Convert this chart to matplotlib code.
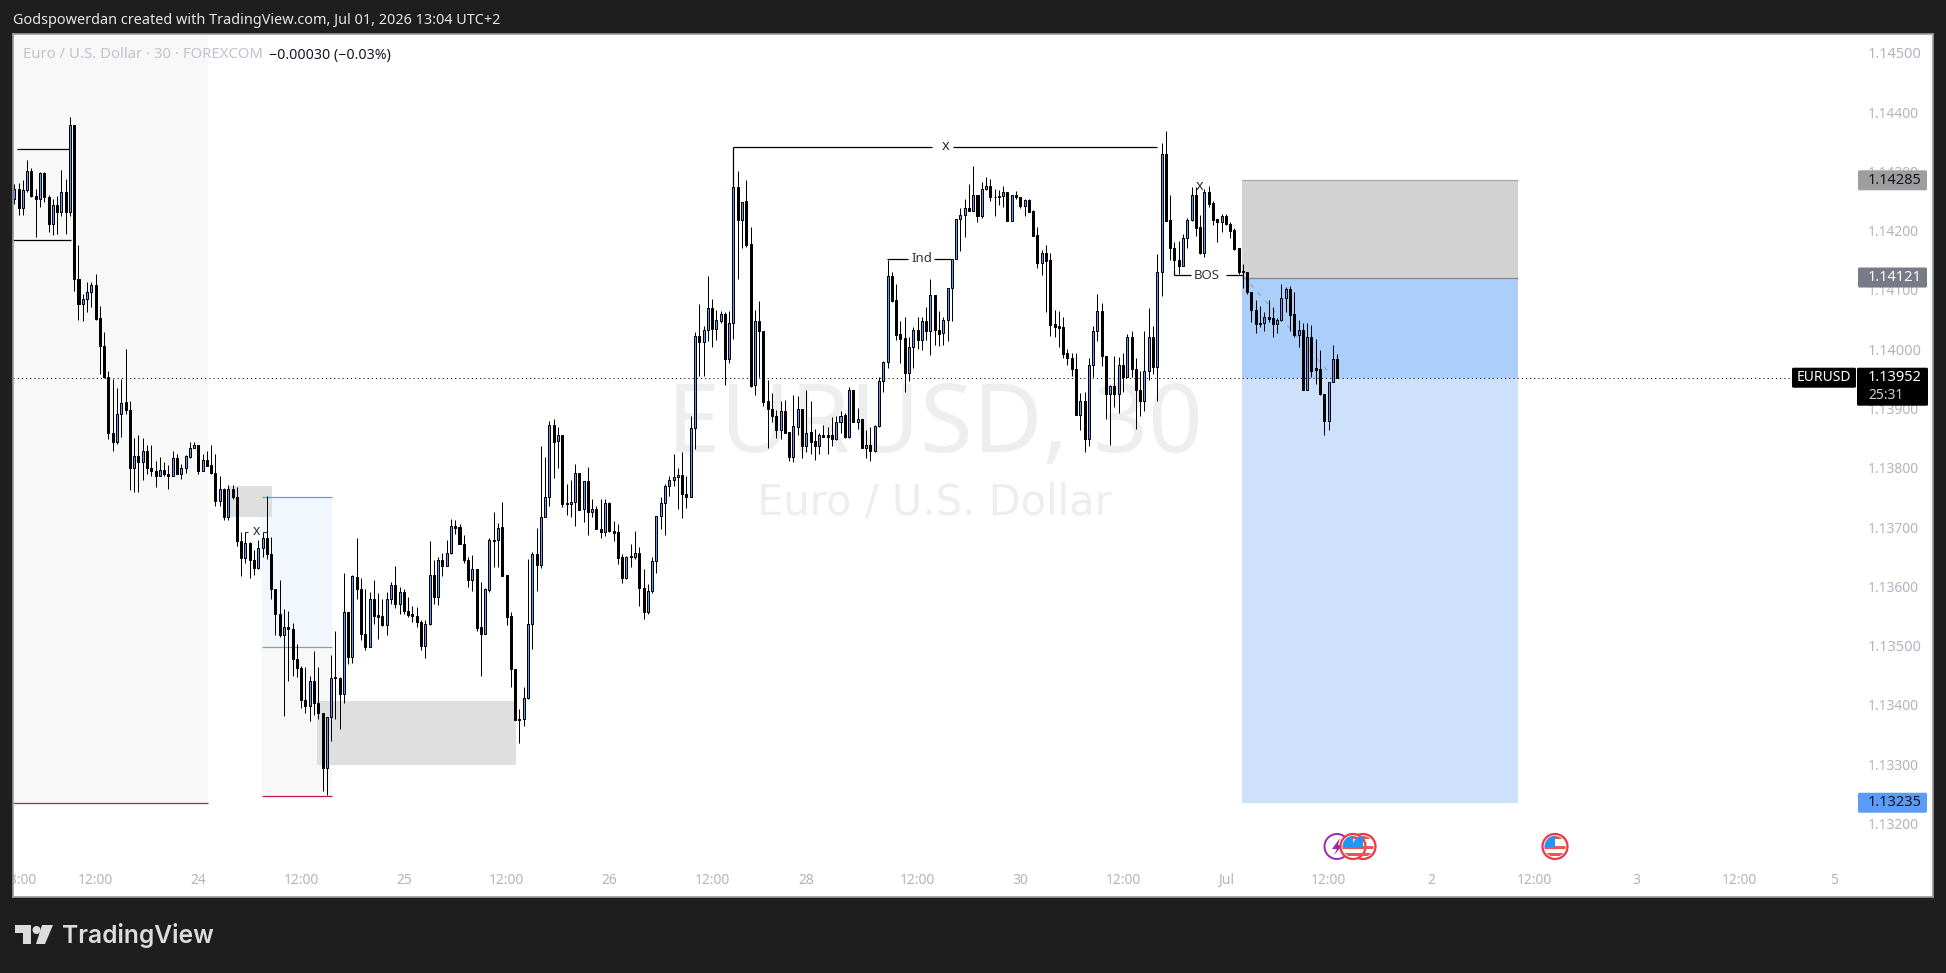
import numpy as np
import matplotlib
matplotlib.use("Agg")
import matplotlib.pyplot as plt
from matplotlib.patches import Rectangle, Circle, Polygon, FancyBboxPatch

plt.rcParams["font.family"] = ["Noto Sans", "DejaVu Sans"]

# candle values, in points above 1.13000 (30 minute bars)
opens = [
    1254, 1270, 1238, 1268, 1300, 1259, 1254, 1297, 1257, 1211,
    1243, 1231, 1266, 1231, 1378, 1118, 1077, 1085, 1097, 1109,
    1052, 1006, 954, 858, 843, 891, 911, 898, 799, 820,
    810, 829, 800, 795, 787, 797, 790, 787, 816, 790,
    799, 819, 834, 838, 795, 814, 805, 792, 744, 765,
    717, 765, 750, 677, 648, 674, 645, 631, 664, 681,
    654, 596, 554, 518, 532, 528, 477, 462, 409, 399,
    441, 404, 386, 293, 379, 447, 446, 419, 556, 481,
    616, 596, 519, 498, 578, 552, 550, 534, 578, 602,
    570, 591, 559, 553, 550, 540, 500, 536, 620, 582,
    645, 635, 657, 701, 700, 672, 645, 611, 629, 531,
    519, 594, 679, 678, 700, 619, 550, 461, 377, 377,
    411, 537, 655, 636, 717, 750, 873, 845, 855, 741,
    739, 743, 792, 730, 777, 726, 730, 697, 692, 740,
    694, 691, 649, 614, 652, 650, 657, 598, 557, 593,
    642, 718, 740, 770, 779, 784, 788, 755, 751, 868,
    1022, 1013, 1033, 1069, 1034, 1048, 1060, 984, 1045, 1273,
    1218, 1250, 1177, 940, 1047, 1031, 913, 900, 888, 864,
    895, 860, 819, 869, 900, 837, 860, 845, 836, 855,
    855, 855, 849, 877, 889, 852, 931, 878, 882, 833,
    838, 829, 870, 946, 978, 1123, 1083, 1026, 1019, 960,
    1003, 1033, 1015, 1047, 1030, 1091, 1033, 1027, 1050, 1103,
    1153, 1219, 1226, 1238, 1234, 1260, 1225, 1270, 1276, 1257,
    1256, 1259, 1265, 1217, 1261, 1256, 1242, 1252, 1233, 1192,
    1146, 1163, 1150, 1042, 1039, 1037, 993, 986, 966, 889,
    912, 848, 973, 1030, 1064, 988, 924, 938, 924, 973,
    954, 1020, 966, 932, 913, 963, 1020, 970, 1131, 1330,
    1218, 1170, 1150, 1141, 1187, 1218, 1260, 1206, 1162, 1266,
    1246, 1220, 1215, 1225, 1212, 1201, 1170, 1132, 1130, 1096,
    1067, 1045, 1044, 1055, 1052, 1042, 1049, 1087, 1101, 1059,
    1024, 1032, 932, 1021, 968, 966, 925, 879, 945, 983,
]
closes = [
    1270, 1238, 1268, 1300, 1258, 1254, 1297, 1257, 1211, 1243,
    1231, 1266, 1231, 1378, 1118, 1077, 1084, 1097, 1109, 1051,
    1006, 954, 858, 843, 891, 910, 898, 799, 820, 810,
    829, 800, 795, 787, 797, 789, 786, 816, 790, 799,
    820, 834, 838, 795, 814, 803, 792, 744, 765, 717,
    765, 750, 677, 648, 674, 645, 631, 664, 681, 654,
    595, 554, 518, 532, 528, 477, 462, 409, 399, 441,
    404, 386, 293, 379, 445, 445, 419, 556, 481, 617,
    596, 519, 498, 578, 550, 549, 534, 578, 602, 571,
    591, 559, 551, 550, 540, 500, 536, 620, 582, 645,
    635, 657, 702, 699, 672, 645, 611, 629, 529, 519,
    595, 679, 677, 699, 618, 549, 460, 374, 374, 411,
    537, 655, 636, 717, 750, 873, 844, 855, 739, 739,
    743, 792, 729, 777, 726, 730, 697, 692, 740, 693,
    690, 648, 614, 649, 649, 657, 598, 557, 593, 642,
    718, 740, 770, 779, 784, 788, 755, 751, 868, 1022,
    1013, 1033, 1069, 1034, 1049, 1060, 984, 1045, 1273, 1218,
    1249, 1176, 938, 1047, 1030, 911, 900, 888, 864, 895,
    859, 819, 870, 900, 837, 859, 844, 836, 855, 852,
    852, 849, 877, 888, 852, 931, 878, 882, 833, 838,
    829, 870, 946, 978, 1123, 1082, 1024, 1018, 960, 1004,
    1033, 1015, 1047, 1030, 1091, 1032, 1026, 1050, 1103, 1153,
    1219, 1226, 1238, 1234, 1260, 1225, 1270, 1276, 1256, 1256,
    1259, 1265, 1217, 1261, 1256, 1242, 1251, 1232, 1191, 1146,
    1163, 1149, 1041, 1037, 1036, 992, 986, 966, 889, 912,
    848, 973, 1030, 1064, 989, 924, 938, 924, 973, 954,
    1020, 966, 932, 913, 963, 1020, 970, 1131, 1330, 1217,
    1170, 1150, 1141, 1187, 1218, 1260, 1205, 1162, 1266, 1245,
    1218, 1215, 1225, 1211, 1200, 1169, 1131, 1130, 1096, 1067,
    1042, 1042, 1055, 1051, 1042, 1049, 1087, 1101, 1058, 1024,
    1032, 932, 1021, 964, 965, 924, 879, 945, 983, 952,
]
highs = [
    1279, 1281, 1285, 1320, 1306, 1271, 1299, 1299, 1260, 1253,
    1258, 1302, 1288, 1391, 1378, 1176, 1094, 1113, 1113, 1127,
    1073, 1029, 963, 949, 934, 950, 1001, 913, 851, 855,
    850, 838, 839, 811, 819, 809, 805, 829, 823, 806,
    821, 843, 844, 838, 824, 828, 838, 823, 786, 766,
    771, 771, 767, 692, 692, 675, 661, 679, 692, 752,
    683, 596, 611, 561, 559, 539, 503, 466, 464, 449,
    491, 464, 386, 379, 484, 525, 447, 623, 556, 619,
    681, 614, 596, 591, 611, 588, 578, 591, 607, 634,
    599, 596, 582, 567, 566, 543, 543, 676, 644, 650,
    657, 678, 714, 712, 705, 686, 650, 653, 629, 607,
    598, 681, 725, 707, 742, 620, 557, 461, 393, 430,
    647, 658, 699, 837, 819, 879, 882, 869, 856, 773,
    779, 806, 792, 777, 801, 747, 735, 747, 747, 742,
    710, 705, 654, 651, 672, 693, 666, 629, 604, 650,
    718, 751, 773, 786, 823, 799, 827, 787, 888, 1029,
    1076, 1039, 1123, 1085, 1066, 1064, 1062, 1064, 1340, 1301,
    1249, 1285, 1206, 1066, 1081, 1031, 948, 926, 897, 913,
    914, 861, 922, 921, 900, 931, 913, 866, 858, 872,
    869, 886, 888, 895, 892, 937, 931, 901, 882, 864,
    869, 872, 954, 981, 1150, 1131, 1110, 1048, 1055, 1021,
    1038, 1055, 1055, 1072, 1118, 1091, 1065, 1055, 1103, 1153,
    1220, 1238, 1253, 1279, 1309, 1261, 1282, 1291, 1287, 1270,
    1268, 1275, 1266, 1261, 1267, 1257, 1253, 1254, 1235, 1206,
    1168, 1176, 1163, 1066, 1065, 1054, 1001, 993, 993, 927,
    928, 985, 1039, 1094, 1078, 988, 940, 988, 987, 993,
    1026, 1030, 985, 964, 1030, 1069, 1039, 1160, 1348, 1368,
    1260, 1181, 1183, 1194, 1221, 1274, 1274, 1226, 1270, 1276,
    1250, 1220, 1229, 1229, 1215, 1204, 1170, 1143, 1131, 1097,
    1083, 1073, 1063, 1083, 1072, 1052, 1110, 1105, 1107, 1097,
    1049, 1044, 1044, 1041, 1018, 998, 925, 945, 1007, 992,
]
lows = [
    1245, 1227, 1227, 1266, 1257, 1190, 1240, 1249, 1198, 1193,
    1195, 1224, 1195, 1225, 1099, 1049, 1048, 1062, 1071, 1049,
    958, 952, 848, 829, 841, 852, 891, 762, 760, 760,
    780, 789, 786, 768, 786, 787, 764, 786, 789, 781,
    792, 817, 834, 789, 794, 803, 789, 735, 736, 712,
    712, 747, 668, 617, 640, 614, 620, 630, 650, 646,
    578, 518, 515, 382, 441, 449, 447, 395, 387, 373,
    383, 376, 255, 248, 340, 377, 359, 404, 469, 471,
    578, 509, 492, 497, 537, 511, 533, 518, 570, 564,
    554, 554, 549, 540, 531, 492, 480, 535, 571, 568,
    617, 634, 654, 689, 671, 639, 599, 593, 525, 449,
    519, 590, 633, 633, 618, 535, 431, 374, 336, 364,
    410, 494, 593, 631, 736, 736, 783, 800, 734, 720,
    717, 702, 728, 709, 687, 717, 697, 682, 685, 692,
    676, 638, 606, 612, 633, 647, 567, 545, 553, 588,
    623, 697, 687, 752, 770, 730, 716, 733, 750, 832,
    955, 955, 1014, 1003, 1015, 1044, 940, 977, 1018, 1119,
    1170, 1173, 937, 923, 954, 905, 833, 878, 850, 848,
    858, 812, 810, 855, 816, 827, 824, 814, 824, 852,
    824, 836, 847, 858, 851, 851, 878, 866, 833, 816,
    812, 827, 869, 928, 968, 1080, 1015, 976, 928, 947,
    968, 1000, 999, 1015, 990, 1007, 1005, 1007, 1014, 1048,
    1153, 1166, 1190, 1234, 1234, 1215, 1221, 1268, 1250, 1224,
    1243, 1240, 1217, 1217, 1253, 1239, 1225, 1232, 1191, 1137,
    1126, 1062, 1023, 1021, 1004, 985, 973, 955, 889, 864,
    827, 837, 954, 1014, 972, 883, 838, 902, 893, 928,
    953, 954, 866, 887, 895, 948, 959, 913, 1089, 1217,
    1150, 1134, 1127, 1140, 1170, 1217, 1191, 1160, 1155, 1240,
    1209, 1181, 1198, 1209, 1188, 1167, 1127, 1103, 1094, 1046,
    1027, 1037, 1030, 1046, 1020, 1027, 1048, 1063, 1030, 1021,
    1004, 932, 932, 954, 942, 922, 855, 864, 944, 952,
]

# time axis
time_ticks = [1, 19, 43, 67, 91, 115, 139, 163, 185, 211, 235, 259, 283, 307, 331, 355, 379, 403, 425]
time_labels = ["03:00", "12:00", "24", "12:00", "25", "12:00", "26", "12:00", "28", "12:00", "30",
               "12:00", "Jul", "12:00", "2", "12:00", "3", "12:00", "5"]
price_ticks = [1.145, 1.144, 1.143, 1.142, 1.141, 1.140, 1.139, 1.138, 1.137, 1.136, 1.135, 1.134, 1.133, 1.132]

last_price = 1.13952
target_price = 1.13235
entry_price = 1.14121
stop_price = 1.14285

UP = "#5B9CF6"
DOWN = "#000000"
BG = "#1E1E1E"
TICK = "#B2B5BE"


def pts(v):
    return 1.13 + np.asarray(v) / 1e5


def seg(ax, v, x0, x1, color="black", lw=0.9, z=1.5):
    ax.plot([x0, x1], [pts(v), pts(v)], color=color, lw=lw, zorder=z, solid_capstyle="butt")


fig = plt.figure(figsize=(19.46, 9.73), dpi=100, facecolor=BG)
ax = fig.add_axes([13 / 1946, 76 / 973, 1920 / 1946, 863 / 973], facecolor="white")
ax.set_xlim(-0.30, 448.2)
ax.set_ylim(1.130760, 1.145318)
for s in ax.spines.values():
    s.set_color("#9A9A9A")
    s.set_linewidth(1.2)

# watermark
ax.text(215, pts(827), "EURUSD, 30", fontsize=69, color="#EEEEEE", ha="center", va="baseline", zorder=0.5)
ax.text(215, pts(720), "Euro / U.S. Dollar", fontsize=30, color="#EEEEEE", ha="center", va="baseline",
        family=["DejaVu Sans"], zorder=0.5)
# boxes
ax.fill_between([-0.3, 45.25], pts(235), 1.1454, color="#F8F8F8", lw=0, zorder=0.6)
ax.fill_between([57.9, 74.2], pts(497.5), pts(750), color="#F2F7FE", lw=0, zorder=0.7)
ax.fill_between([57.9, 74.2], pts(245.6), pts(497.5), color="#F8F8F8", lw=0, zorder=0.7)
ax.fill_between([50.06, 60.2], pts(717), pts(769), color="#DFDFDF", lw=0, zorder=0.8)
ax.fill_between([70.7, 117.1], pts(299), pts(406), color="#DFDFDF", lw=0, zorder=0.8)
ax.fill_between([286.9, 351.2], entry_price, stop_price, color="#D3D3D3", lw=0, zorder=0.7)
ax.fill_between([286.9, 351.2], last_price, entry_price, color="#ABCEFA", lw=0, zorder=0.7)
ax.fill_between([286.9, 351.2], target_price, last_price, color="#CEE1FB", lw=0, zorder=0.7)

ax.hlines(target_price, -0.3, 45.25, color="#C2185B", lw=0.9, zorder=1)
ax.hlines(pts(750), 57.9, 74.2, color="#6A9BDC", lw=0.9, zorder=1)
ax.hlines(pts(497.5), 57.9, 74.2, color="#9A9A9A", lw=0.9, zorder=1)
ax.hlines(pts(245.6), 57.9, 74.2, color="#C2185B", lw=0.9, zorder=1)
ax.hlines(stop_price, 286.9, 351.2, color="#ABABAB", lw=0.9, zorder=1)
ax.hlines(entry_price, 286.9, 351.2, color="#888888", lw=0.9, zorder=1)
ax.plot([287, 308.1], [pts(1124), pts(953)], color="#9E9E9E", lw=0.8, ls=(0, (4, 6)), zorder=1)

# last price line
ax.hlines(last_price, -0.3, 415, color="black", lw=0.75, ls=(0, (1, 3)), zorder=1.2)

# structure drawings
seg(ax, 1337, 0.7, 13.2)
seg(ax, 1184, -0.3, 13.2)
seg(ax, 1340.5, 168, 214.3)
seg(ax, 1340.5, 219.3, 266.9)
ax.vlines(168, pts(1273), pts(1340.5), color="black", lw=0.9, zorder=1.5)
seg(ax, 1153, 203.8, 208.8)
seg(ax, 1153, 214.9, 219.1)
seg(ax, 1124.6, 270.9, 274.9)
seg(ax, 1124.6, 283, 287)
ax.vlines(270.9, pts(1124.6), pts(1134), color="black", lw=0.9, zorder=1.5)
seg(ax, 691, 53.8, 54.6, color="#333333", lw=0.8)
seg(ax, 691, 58.1, 59, color="#333333", lw=0.8)
ax.text(217.6, pts(1342), "x", fontsize=10.5, color="#333333", ha="center", va="center", zorder=3)
ax.text(212, pts(1153), "Ind", fontsize=9.5, color="#333333", ha="center", va="center", zorder=3)
ax.text(278.6, pts(1124.6), "BOS", fontsize=9.5, color="#333333", ha="center", va="center", zorder=3)
ax.text(56.6, pts(692), "x", fontsize=10, color="#333333", ha="center", va="center", zorder=3)
ax.text(277, pts(1275), "x", fontsize=10.5, color="#333333", ha="center", va="center", zorder=3)

# candles
o = pts(opens)
c = pts(closes)
h = pts(highs)
l = pts(lows)
bars = np.arange(len(o))
up = c > o
ax.vlines(bars, l, h, color="black", lw=0.72, zorder=2)
ax.bar(bars[up], (c - o)[up], bottom=o[up], width=0.47, color=UP, edgecolor="black", linewidth=0.72, zorder=2.2)
ax.bar(bars[~up], (o - c)[~up], bottom=c[~up], width=0.47, color=DOWN, edgecolor="black", linewidth=0.72, zorder=2.2)

# axis labels sit inside the panel
ax.set_xticks(time_ticks, time_labels)
ax.yaxis.tick_right()
ax.set_yticks(price_ticks, [f"{p:.5f}" for p in price_ticks])
ax.tick_params(axis="x", length=0, pad=-17.5, labelsize=10, labelcolor=TICK)
ax.tick_params(axis="y", length=0, pad=-46.8, labelsize=10, labelcolor=TICK)
for lab in ax.get_xticklabels():
    lab.set_clip_box(ax.bbox)
    lab.set_clip_on(True)
    if lab.get_text() == "Jul":
        lab.set_fontweight("bold")
for lab, p in zip(ax.get_yticklabels(), price_ticks):
    if round(p * 1000) % 5 == 0:
        lab.set_fontweight("bold")
        lab.set_fontsize(10.5)

# overlay in pixels for the labels, header and logo
top = fig.add_axes([0, 0, 1, 1], facecolor="none", zorder=5)
top.set_xlim(0, 1946)
top.set_ylim(973, 0)
top.axis("off")


def px_y(price):
    return 973 - ax.transData.transform((0, price))[1]


def tag(price, text, face, color):
    y = px_y(price)
    top.add_patch(FancyBboxPatch((1858, y - 10), 69, 20, boxstyle="round,pad=0,rounding_size=1.5",
                                 fc=face, ec="none"))
    top.text(1868, y, text, color=color, fontsize=10.5, va="center", ha="left")


tag(stop_price, "1.14285", "#9E9E9E", "#131722")
tag(entry_price, "1.14121", "#787B86", "white")
tag(target_price, "1.13235", UP, "#131722")

y = px_y(last_price)
top.add_patch(FancyBboxPatch((1857, y - 10), 71, 38, boxstyle="round,pad=0,rounding_size=1.5", fc="black", ec="none"))
top.add_patch(FancyBboxPatch((1792, y - 10), 64, 20, boxstyle="round,pad=0,rounding_size=1.5", fc="black", ec="none"))
top.text(1824, y, "EURUSD", color="white", fontsize=10, va="center", ha="center")
top.text(1868, y, "1.13952", color="white", fontsize=10.5, va="center", ha="left")
top.text(1868, y + 18, "25:31", color="#CFCFCF", fontsize=10, va="center", ha="left")

# header
top.text(13, 21, "Godspowerdan created with TradingView.com, Jul 01, 2026 13:04 UTC+2", color="#E6E6E6",
         fontsize=10.4, va="center", ha="left")
top.text(23, 55, "Euro / U.S. Dollar · 30 · FOREXCOM", color="#C0C2CC", fontsize=10.7, va="center", ha="left")
top.text(269, 55, "−0.00030 (−0.03%)", color="#131722", fontsize=10.2, va="center", ha="left")

# logo
logo = "#DCDCDC"
top.add_patch(Polygon([(15, 925), (31, 925), (31, 944), (23, 944), (23, 933), (15, 933)], fc=logo, ec="none"))
top.add_patch(Circle((36.5, 930), 4, fc=logo, ec="none"))
top.add_patch(Polygon([(42, 925), (53, 925), (45, 944), (36, 944)], fc=logo, ec="none"))
top.text(62, 935, "TradingView", color=logo, fontsize=17.7, fontweight="semibold", va="center", ha="left",
         family=["Inter", "DejaVu Sans"])


# event icons
def flag_icon(cx, cy):
    top.add_patch(Circle((cx, cy), 12.5, fc="white", ec="#F23645", lw=1.6, zorder=6))
    clip = Circle((cx, cy), 10.5, transform=top.transData)
    for yy in (cy - 1, cy + 6):
        r = Rectangle((cx - 12, yy), 24, 3.5, fc="#EF5350", ec="none", zorder=6.1)
        top.add_patch(r)
        r.set_clip_path(clip)
    r = Rectangle((cx - 12, cy - 11), 24, 3.5, fc="#EF5350", ec="none", zorder=6.1)
    top.add_patch(r)
    r.set_clip_path(clip)
    r = Rectangle((cx - 12, cy - 12), 12, 12, fc="#2196F3", ec="none", zorder=6.2)
    top.add_patch(r)
    r.set_clip_path(clip)


top.add_patch(Circle((1337, 846.5), 12.5, fc="white", ec="#9C27B0", lw=1.4, zorder=5.5))
top.add_patch(Polygon([(1340, 838), (1332, 849), (1337, 849), (1334, 855), (1343, 845), (1338, 845)],
                      fc="#9C27B0", ec="none", zorder=5.6))
flag_icon(1363, 846.5)
flag_icon(1353, 846.5)
flag_icon(1555, 846.5)

fig.savefig("out.png", dpi=100, facecolor=BG)
